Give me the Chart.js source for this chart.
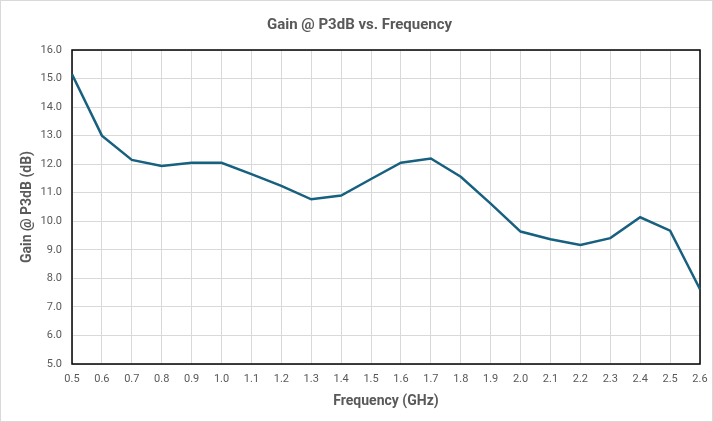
<!DOCTYPE html>
<html><head><meta charset="utf-8">
<script src="https://cdn.jsdelivr.net/npm/chart.js@4/dist/chart.umd.min.js"></script>
<style>html,body{margin:0;padding:0;background:#fff}#wrap{width:713px;height:422px;position:relative}</style>
</head><body><div id="wrap"><canvas id="c" width="713" height="422"></canvas></div>
<script>
const frequencies = ["0.5","0.6","0.7","0.8","0.9","1.0","1.1","1.2","1.3","1.4","1.5","1.6","1.7","1.8","1.9","2.0","2.1","2.2","2.3","2.4","2.5","2.6"];
const gainP3dB = [15.15,13.0,12.15,11.94,12.05,12.05,11.65,11.24,10.77,10.9,11.48,12.05,12.2,11.56,10.62,9.64,9.37,9.17,9.41,10.14,9.67,7.62];
const yMin = 5, yMax = 16, yStep = 1;
const titleText = "Gain @ P3dB vs. Frequency";
const xTitle = "Frequency (GHz)";
const yTitle = "Gain @ P3dB (dB)";

const FONT_T = "Roboto,'Liberation Sans',sans-serif";
const FONT_K = "Roboto,'Liberation Sans',sans-serif";
const TXT = '#595959';

const framePlugin = {
  id: 'frame',
  beforeDraw(chart){
    const ctx = chart.ctx;
    ctx.save();
    ctx.fillStyle = '#fff';
    ctx.fillRect(0,0,chart.width,chart.height);
    ctx.strokeStyle = '#d9d9d9';
    ctx.lineWidth = 1;
    ctx.strokeRect(0.5,0.5,chart.width-1,chart.height-1);
    ctx.restore();
  },
  beforeDatasetsDraw(chart){
    const a = chart.chartArea, ctx = chart.ctx;
    ctx.save();
    ctx.strokeStyle = '#000';
    ctx.lineWidth = 1.5;
    ctx.strokeRect(a.left, a.top, a.right-a.left, a.bottom-a.top);
    ctx.restore();
  },
  afterDraw(chart){
    const ctx = chart.ctx;
    ctx.save();
    ctx.fillStyle = TXT;
    ctx.font = "bold 15px " + FONT_T;
    ctx.textAlign = 'center';
    ctx.textBaseline = 'middle';
    ctx.fillText(titleText, chart.width/2 + 3, 25);
    ctx.restore();
  }
};

new Chart(document.getElementById('c'), {
  type: 'line',
  data: {
    labels: frequencies,
    datasets: [{
      data: gainP3dB,
      borderColor: '#17607f',
      borderWidth: 2.5,
      pointRadius: 0,
      tension: 0,
      fill: false
    }]
  },
  options: {
    responsive: false,
    animation: false,
    devicePixelRatio: 1,
    layout: { padding: { left: 0, right: 13, top: 50, bottom: 0 } },
    plugins: {
      legend: { display: false },
      tooltip: { enabled: false },
      title: { display: false }
    },
    scales: {
      x: {
        type: 'category',
        offset: false,
        grid: { color: '#d9d9d9', lineWidth: 1, drawTicks: false },
        border: { display: false },
        ticks: { color: TXT, font: { family: FONT_K, size: 11 }, padding: 9, maxRotation: 0, autoSkip: false },
        title: { display: true, text: xTitle, color: TXT, font: { family: FONT_T, size: 14, weight: 'bold' }, padding: { top: 0, bottom: 12 } },
        afterFit(s){ s.height = 58; s.paddingLeft = 0; s.paddingRight = 0; }
      },
      y: {
        min: yMin, max: yMax,
        grid: { color: '#d9d9d9', lineWidth: 1, drawTicks: false },
        border: { display: false },
        ticks: { stepSize: yStep, color: TXT, font: { family: FONT_K, size: 11 }, padding: 10, callback: v => Number(v).toFixed(1) },
        title: { display: true, text: yTitle, color: TXT, font: { family: FONT_T, size: 14, weight: 'bold' }, padding: { top: 19, bottom: 0 } },
        afterFit(s){ s.width = 72; }
      }
    }
  },
  plugins: [framePlugin]
});
</script></body></html>
